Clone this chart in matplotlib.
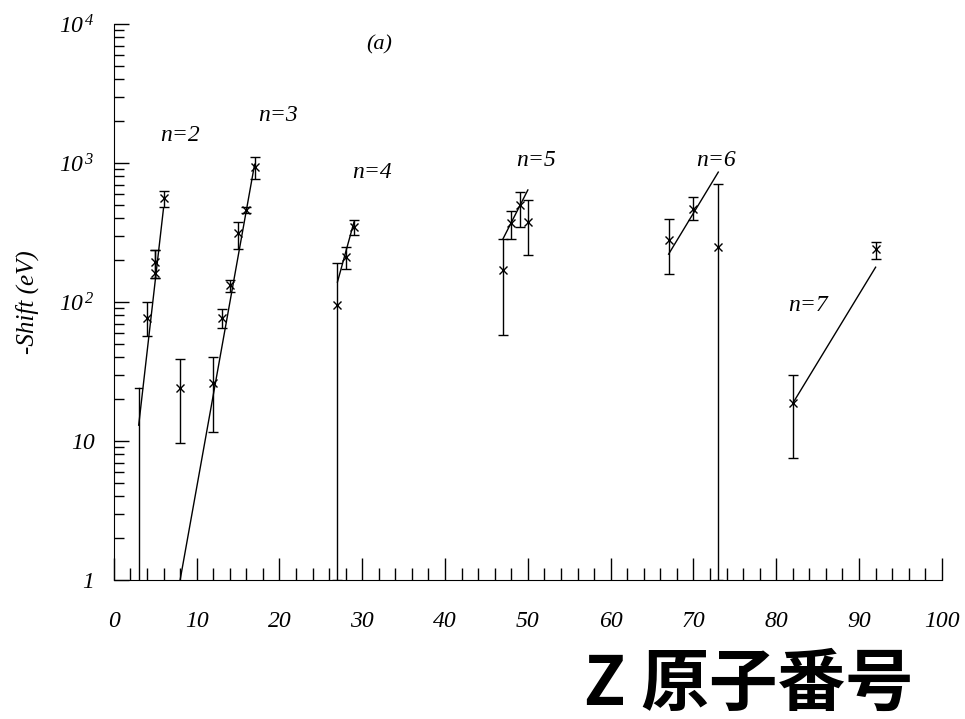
import numpy as np
import matplotlib
matplotlib.use("Agg")
import matplotlib.pyplot as plt
from matplotlib.ticker import FixedLocator, NullFormatter

plt.rcParams['font.family'] = ['Liberation Serif', 'DejaVu Serif']
plt.rcParams['mathtext.fontset'] = 'custom'
plt.rcParams['mathtext.rm'] = 'Liberation Serif:italic'
plt.rcParams['mathtext.it'] = 'Liberation Serif:italic'

# measured points: Z, -shift, lower bar end, upper bar end
z_pts = [4, 5, 5, 6, 8, 12, 13, 14, 15, 16, 17, 27, 28, 29,
         47, 48, 49, 50, 67, 70, 73, 82, 92]
shift = [77, 195, 162, 560, 24, 26, 77, 133, 314, 460, 940, 95, 210, 345,
         170, 370, 500, 376, 280, 465, 250, 18.7, 240]
lo = [57, 150, 150, 480, 9.7, 11.6, 65, 118, 240, 440, 770, 1, 172, 303,
      58, 285, 345, 218, 160, 390, 1, 7.5, 203]
hi = [100, 235, 235, 630, 39, 40, 89, 145, 377, 480, 1100, 190, 250, 390,
      285, 450, 620, 540, 395, 570, 710, 30, 270]

# bar without a visible marker (Z=3)
z_bar = [3]
bar_lo = [1]
bar_hi = [24]

# fitted lines per shell n
fit_n = [2, 3, 4, 5, 6, 7]
fit_z = [[3, 6], [8, 17], [27, 29], [47, 50], [67, 73], [82, 92]]
fit_s = [[13, 475], [1, 980], [139, 376], [285, 640], [221, 860], [18.7, 178]]
label_pos = [(8.0, 1590), (19.8, 2215), (31.2, 860), (51.0, 1050), (72.7, 1050), (83.8, 95)]

fig = plt.figure(figsize=(9.65, 7.19), dpi=100)
ax = fig.add_axes([0.118, 0.1933, 0.858, 0.7733])
ax.set_yscale('log')

shift = np.array(shift)
yerr = np.array([shift - np.array(lo), np.array(hi) - shift])
ax.errorbar(z_pts, shift, yerr=yerr, fmt='x', color='black', ms=6, mew=1.0,
            elinewidth=1.0, capsize=3.5, capthick=1.0)
for x, l, h in zip(z_bar, bar_lo, bar_hi):
    ax.plot([x, x], [l, h], color='black', lw=1.0)
    ax.plot([x - 0.4, x + 0.4], [h, h], color='black', lw=1.0)

for n, zs, ss, (tx, ty) in zip(fit_n, fit_z, fit_s, label_pos):
    ax.plot(zs, ss, color='black', lw=1.0)
    ax.text(tx, ty, 'n=%d' % n, fontsize=17, style='italic', ha='center', va='center')

ax.text(32.1, 7050, '(a)', fontsize=16, style='italic', ha='center', va='center')

ax.set_xlim(0, 100)
ax.set_ylim(1, 1e4)
ax.spines['top'].set_visible(False)
ax.spines['right'].set_visible(False)

ax.set_xticks(np.arange(0, 101, 10))
ax.set_xticklabels([str(v) for v in range(0, 101, 10)], fontsize=17, style='italic')
ax.xaxis.set_minor_locator(FixedLocator(np.arange(0, 101, 2)))
ax.tick_params(axis='x', which='major', direction='in', length=16, width=1.0, pad=22)
ax.tick_params(axis='x', which='minor', direction='in', length=9, width=1.0)

ax.set_yticks([1, 10, 100, 1000, 10000])
ax.set_yticklabels(['1', '10', r'$10^{\,2}$', r'$10^{\,3}$', r'$10^{\,4}$'], fontsize=17, style='italic')
ax.yaxis.set_minor_formatter(NullFormatter())
ax.tick_params(axis='y', which='major', direction='in', length=11, width=1.0, pad=14)
ax.tick_params(axis='y', which='minor', direction='in', length=7, width=1.0)

ax.set_ylabel('-Shift (eV)', fontsize=18, style='italic', labelpad=14)

fig.text(0.776, 0.047, 'Z 原子番号', fontsize=49, fontweight='bold',
         family=['Noto Sans CJK JP', 'DejaVu Sans'], ha='center', va='center')

fig.savefig('out.png', dpi=100)
